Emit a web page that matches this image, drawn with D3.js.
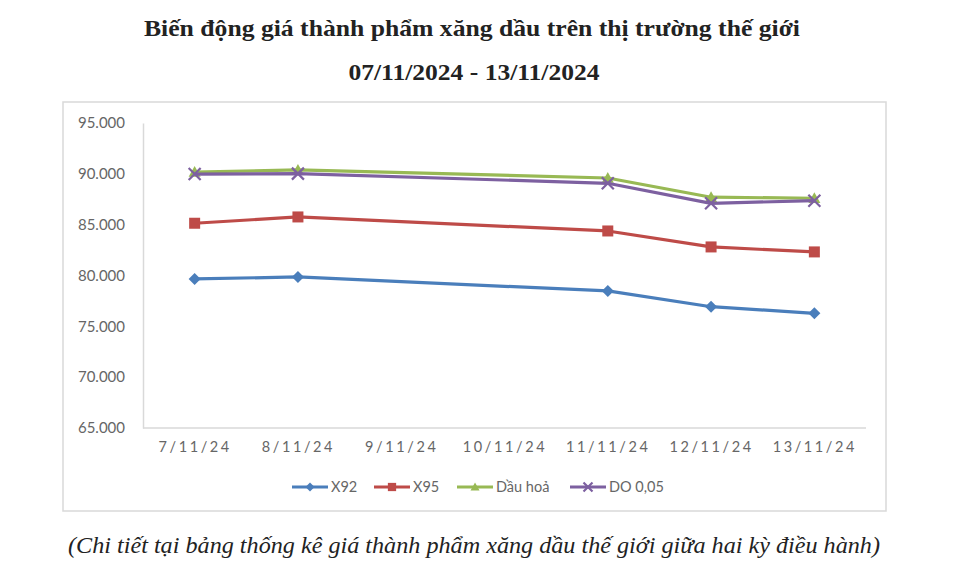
<!DOCTYPE html>
<html>
<head>
<meta charset="utf-8">
<script src="https://cdn.jsdelivr.net/npm/d3@7"></script>
<style>
  html, body { margin: 0; padding: 0; background: #fff; }
  svg { display: block; }
</style>
</head>
<body>
<svg id="chart" width="965" height="576"></svg>
<script>
// ── DATA ─────────────────────────────────────────────────
const dates  = ['7/11/24', '8/11/24', '9/11/24', '10/11/24', '11/11/24', '12/11/24', '13/11/24'];
const x92    = [79660, 79860, null, null, 78480, 76930, 76280];
const x95    = [85140, 85760, null, null, 84380, 82810, 82320];
const dauHoa = [90180, 90380, null, null, 89590, 87700, 87600];
const do005  = [89980, 90020, null, null, 89070, 87100, 87360];
const yTicks = [65000, 70000, 75000, 80000, 85000, 90000, 95000];

const series = [
  { name: 'X92',     values: x92,    color: '#4A7EBB', marker: 'diamond' },
  { name: 'X95',     values: x95,    color: '#BE4B48', marker: 'square' },
  { name: 'Dầu hoả', values: dauHoa, color: '#98B954', marker: 'triangle' },
  { name: 'DO 0,05', values: do005,  color: '#7D60A0', marker: 'cross' }
];

// ── LAYOUT ───────────────────────────────────────────────
const svg = d3.select('#chart');
const plot = { left: 143, right: 866, top: 123, bottom: 428 };
const axisFont = 'Lato, "Open Sans", sans-serif';
const axisColor = '#666';

const vi = d3.formatLocale({ decimal: ',', thousands: '.', grouping: [3], currency: ['', ''] });
const fmt = vi.format(',.0f');

const x = d3.scalePoint().domain(dates).range([plot.left, plot.right]).padding(0.5);
const y = d3.scaleLinear().domain([65000, 95000]).range([plot.bottom, plot.top]);

// titles
function fitText(sel, width) {
  const w = sel.node().getComputedTextLength();
  if (w > 0) sel.attr('textLength', width).attr('lengthAdjust', 'spacingAndGlyphs');
}
const title = svg.append('text')
  .attr('x', 472).attr('y', 36).attr('text-anchor', 'middle')
  .style('font', 'bold 24px "Liberation Serif", "Times New Roman", serif')
  .style('fill', '#222')
  .text('Biến động giá thành phẩm xăng dầu trên thị trường thế giới');
fitText(title, 656);

const sub = svg.append('text')
  .attr('x', 474).attr('y', 80).attr('text-anchor', 'middle')
  .style('font', 'bold 24px "Liberation Serif", "Times New Roman", serif')
  .style('fill', '#222')
  .text('07/11/2024 - 13/11/2024');
fitText(sub, 251);

// chart frame
svg.append('rect')
  .attr('x', 63).attr('y', 102).attr('width', 823).attr('height', 409)
  .attr('fill', '#fff').attr('stroke', '#D9D9D9').attr('stroke-width', 1.5);

// y axis
const yAxis = svg.append('g')
  .attr('transform', `translate(${plot.left},0)`)
  .call(d3.axisLeft(y).tickValues(yTicks).tickFormat(fmt).tickSize(0).tickPadding(18));
yAxis.select('.domain').attr('stroke', '#D9D9D9').attr('stroke-width', 1.5);
yAxis.selectAll('text')
  .style('font-family', axisFont).style('font-size', '15px').style('fill', axisColor);

// x axis
const xAxis = svg.append('g')
  .attr('transform', `translate(0,${plot.bottom})`)
  .call(d3.axisBottom(x).tickSize(0).tickPadding(14));
xAxis.select('.domain').attr('stroke', '#D9D9D9').attr('stroke-width', 1.5)
  .attr('d', `M${plot.left},0H${plot.right}`);
xAxis.selectAll('text')
  .style('font-family', axisFont).style('font-size', '14.5px').style('fill', axisColor)
  .style('letter-spacing', '2.6px');

// ── MARKERS ──────────────────────────────────────────────
function drawMarker(g, type, color, s) {
  if (type === 'diamond') {
    g.append('path').attr('d', `M0,${-s}L${s},0L0,${s}L${-s},0Z`).attr('fill', color);
  } else if (type === 'square') {
    g.append('rect').attr('x', -s).attr('y', -s).attr('width', 2 * s).attr('height', 2 * s).attr('fill', color);
  } else if (type === 'triangle') {
    g.append('path').attr('d', `M0,${-s}L${s},${s * 0.8}L${-s},${s * 0.8}Z`).attr('fill', color);
  } else {
    g.append('path').attr('d', `M${-s},${-s}L${s},${s}M${s},${-s}L${-s},${s}`)
      .attr('stroke', color).attr('stroke-width', 2.2).attr('fill', 'none');
  }
}
const markerSize = { diamond: 6, square: 5.5, triangle: 6, cross: 6 };

// ── LINES ────────────────────────────────────────────────
const line = d3.line().x(d => x(d.date)).y(d => y(d.value));

series.forEach(s => {
  const pts = dates.map((d, i) => ({ date: d, value: s.values[i] })).filter(d => d.value != null);
  svg.append('path')
    .datum(pts)
    .attr('d', line)
    .attr('fill', 'none')
    .attr('stroke', s.color)
    .attr('stroke-width', 3.2)
    .attr('stroke-linejoin', 'round');
  pts.forEach(p => {
    const g = svg.append('g').attr('transform', `translate(${x(p.date)},${y(p.value)})`);
    drawMarker(g, s.marker, s.color, markerSize[s.marker]);
  });
});

// ── LEGEND ───────────────────────────────────────────────
const legendX = [292, 374, 457, 570];
const legendY = 487;
series.forEach((s, i) => {
  const g = svg.append('g').attr('transform', `translate(${legendX[i]},${legendY})`);
  g.append('line').attr('x1', 0).attr('x2', 36).attr('y1', 0).attr('y2', 0)
    .attr('stroke', s.color).attr('stroke-width', 3.2);
  const m = g.append('g').attr('transform', 'translate(18,0)');
  drawMarker(m, s.marker, s.color, markerSize[s.marker] * 0.75);
  g.append('text').attr('x', 39).attr('y', 5)
    .style('font-family', axisFont).style('font-size', '14.5px').style('fill', axisColor)
    .text(s.name);
});

// footnote
const note = svg.append('text')
  .attr('x', 474).attr('y', 553).attr('text-anchor', 'middle')
  .style('font', 'italic 23px "Liberation Serif", "Times New Roman", serif')
  .style('fill', '#222')
  .text('(Chi tiết tại bảng thống kê giá thành phẩm xăng dầu thế giới giữa hai kỳ điều hành)');
fitText(note, 812);
</script>
</body>
</html>
